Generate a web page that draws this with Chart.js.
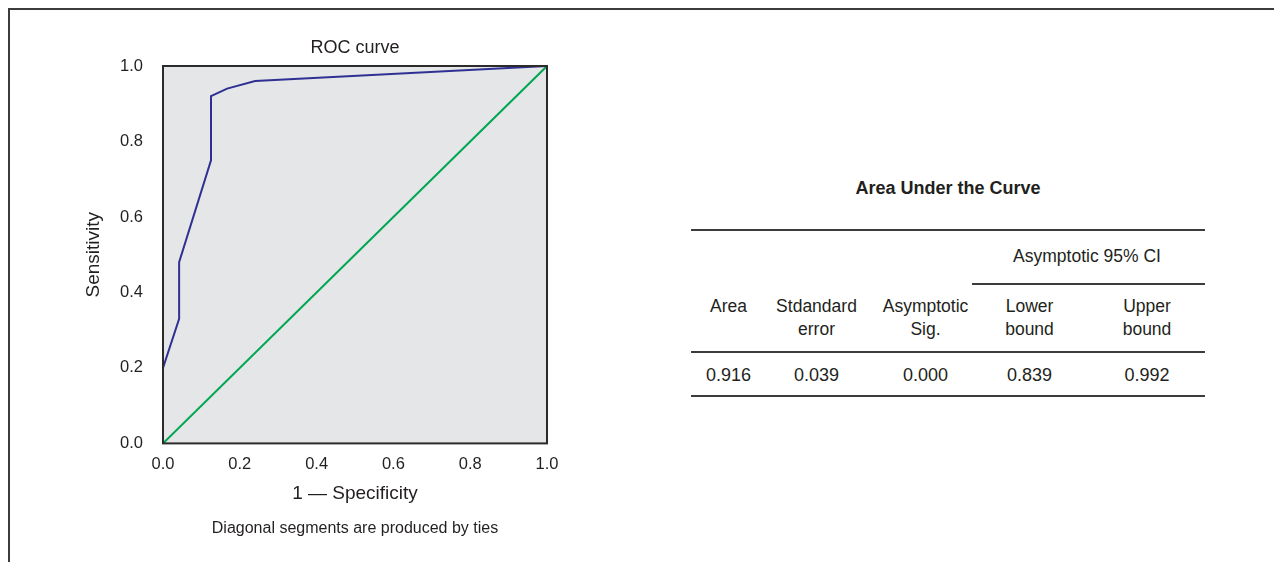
<!DOCTYPE html>
<html>
<head>
<meta charset="utf-8">
<script src="https://cdn.jsdelivr.net/npm/chart.js@4.4.1/dist/chart.umd.min.js"></script>
<style>
html, body { margin: 0; padding: 0; background: #fff; }
#page { position: relative; width: 1274px; height: 562px; overflow: hidden;
  font-family: 'Liberation Sans', Arial, sans-serif; color: #231f20; }
#frame { position: absolute; left: 8px; top: 8px; width: 1400px; height: 700px;
  border-left: 2px solid #3c3c3c; border-top: 2px solid #3c3c3c; }
#rocChart { position: absolute; left: 0; top: 0; }
.cell { position: absolute; transform: translate(-50%, -50%); white-space: nowrap;
  font-size: 17.5px; line-height: 1; }
.rule { position: absolute; height: 2px; background: #3c3c3c; }
</style>
</head>
<body>
<div id="page">
  <div id="frame"></div>
  <canvas id="rocChart" width="640" height="562"></canvas>
  <div id="auc"></div>
</div>
<script>
// ROC curve points (1 - specificity, sensitivity)
var fprValues = [0, 0, 0.042, 0.042, 0.125, 0.125, 0.167, 0.24, 1];
var tprValues = [0, 0.2, 0.33, 0.48, 0.75, 0.92, 0.94, 0.96, 1];
// reference diagonal
var refX = [0, 1];
var refY = [0, 1];
var axisTicks = ['0.0', '0.2', '0.4', '0.6', '0.8', '1.0'];

// table values
var aucTitle = 'Area Under the Curve';
var ciTitle = 'Asymptotic 95% CI';
var aucHeaders = [['Area'], ['Stdandard', 'error'], ['Asymptotic', 'Sig.'], ['Lower', 'bound'], ['Upper', 'bound']];
var aucValues = ['0.916', '0.039', '0.000', '0.839', '0.992'];

Chart.defaults.font.family = "'Liberation Sans', Arial, sans-serif";
Chart.defaults.color = '#231f20';

const plotFrame = {
  id: 'plotFrame',
  beforeDatasetsDraw(chart) {
    const {ctx, chartArea: a} = chart;
    ctx.save();
    ctx.fillStyle = '#e5e6e8';
    ctx.fillRect(a.left, a.top, a.width, a.height);
    ctx.restore();
  },
  afterDatasetsDraw(chart) {
    const {ctx, chartArea: a} = chart;
    ctx.save();
    ctx.strokeStyle = '#2b2b2b';
    ctx.lineWidth = 2;
    ctx.strokeRect(a.left, a.top, a.width, a.height);
    ctx.restore();
  }
};

function fixedTicks(scale) {
  scale.ticks = axisTicks.map(t => ({value: parseFloat(t)}));
}

const rocChart = new Chart('rocChart', {
  type: 'scatter',
  data: {
    datasets: [
      {
        label: 'ROC',
        data: fprValues.map((x, i) => ({x: x, y: tprValues[i]})),
        showLine: true,
        borderColor: '#2e3192',
        borderWidth: 2,
        pointRadius: 0,
        fill: false
      },
      {
        label: 'Reference',
        data: refX.map((x, i) => ({x: x, y: refY[i]})),
        showLine: true,
        borderColor: '#00a651',
        borderWidth: 2,
        pointRadius: 0,
        fill: false
      }
    ]
  },
  plugins: [plotFrame],
  options: {
    responsive: false,
    animation: false,
    devicePixelRatio: 1,
    layout: {padding: {left: 0, right: 93, top: 0, bottom: 23.4}},
    plugins: {
      legend: {display: false},
      tooltip: {enabled: false},
      title: {
        display: true,
        text: 'ROC curve',
        fullSize: false,
        font: {size: 18, weight: 'normal'},
        padding: {top: 37, bottom: 7.4}
      },
      subtitle: {
        display: true,
        position: 'bottom',
        text: 'Diagonal segments are produced by ties',
        fullSize: false,
        font: {size: 16},
        padding: {top: 6, bottom: 0}
      }
    },
    scales: {
      x: {
        type: 'linear',
        min: 0, max: 1,
        afterBuildTicks: fixedTicks,
        afterFit: s => { s.height = 70; },
        grid: {display: false, drawTicks: false},
        border: {display: false},
        ticks: {padding: 11, font: {size: 16.5}, callback: (v, i) => axisTicks[i]},
        title: {display: true, text: '1 \u2014 Specificity', font: {size: 19}, padding: {top: 0, bottom: 8.6}}
      },
      y: {
        type: 'linear',
        min: 0, max: 1,
        afterBuildTicks: fixedTicks,
        afterFit: s => { s.width = 163; },
        grid: {display: false, drawTicks: false},
        border: {display: false},
        ticks: {padding: 20, font: {size: 16.5}, callback: (v, i) => axisTicks[i]},
        title: {display: true, text: 'Sensitivity', font: {size: 19}, padding: {top: 82.6, bottom: 0}}
      }
    }
  }
});

// Area under the curve table
var auc = document.getElementById('auc');
var colX = [728.5, 816.5, 925.5, 1029.5, 1147];

function addCell(text, x, y, extra) {
  var d = document.createElement('div');
  d.className = 'cell';
  d.textContent = text;
  d.style.left = x + 'px';
  d.style.top = y + 'px';
  if (extra) Object.assign(d.style, extra);
  auc.appendChild(d);
}
function addRule(x, y, w) {
  var r = document.createElement('div');
  r.className = 'rule';
  r.style.left = x + 'px';
  r.style.top = y + 'px';
  r.style.width = w + 'px';
  auc.appendChild(r);
}

addCell(aucTitle, 948, 188, {fontWeight: 'bold', fontSize: '18px'});
addRule(691, 229, 514);
addCell(ciTitle, 1087, 256.5);
addRule(972, 282.5, 233);
aucHeaders.forEach((lines, i) => {
  lines.forEach((t, j) => addCell(t, colX[i], 307 + j * 23));
});
addRule(691, 350.5, 514);
aucValues.forEach((v, i) => addCell(v, colX[i], 374.5, {fontSize: '18px'}));
addRule(691, 395, 514);
</script>
</body>
</html>
